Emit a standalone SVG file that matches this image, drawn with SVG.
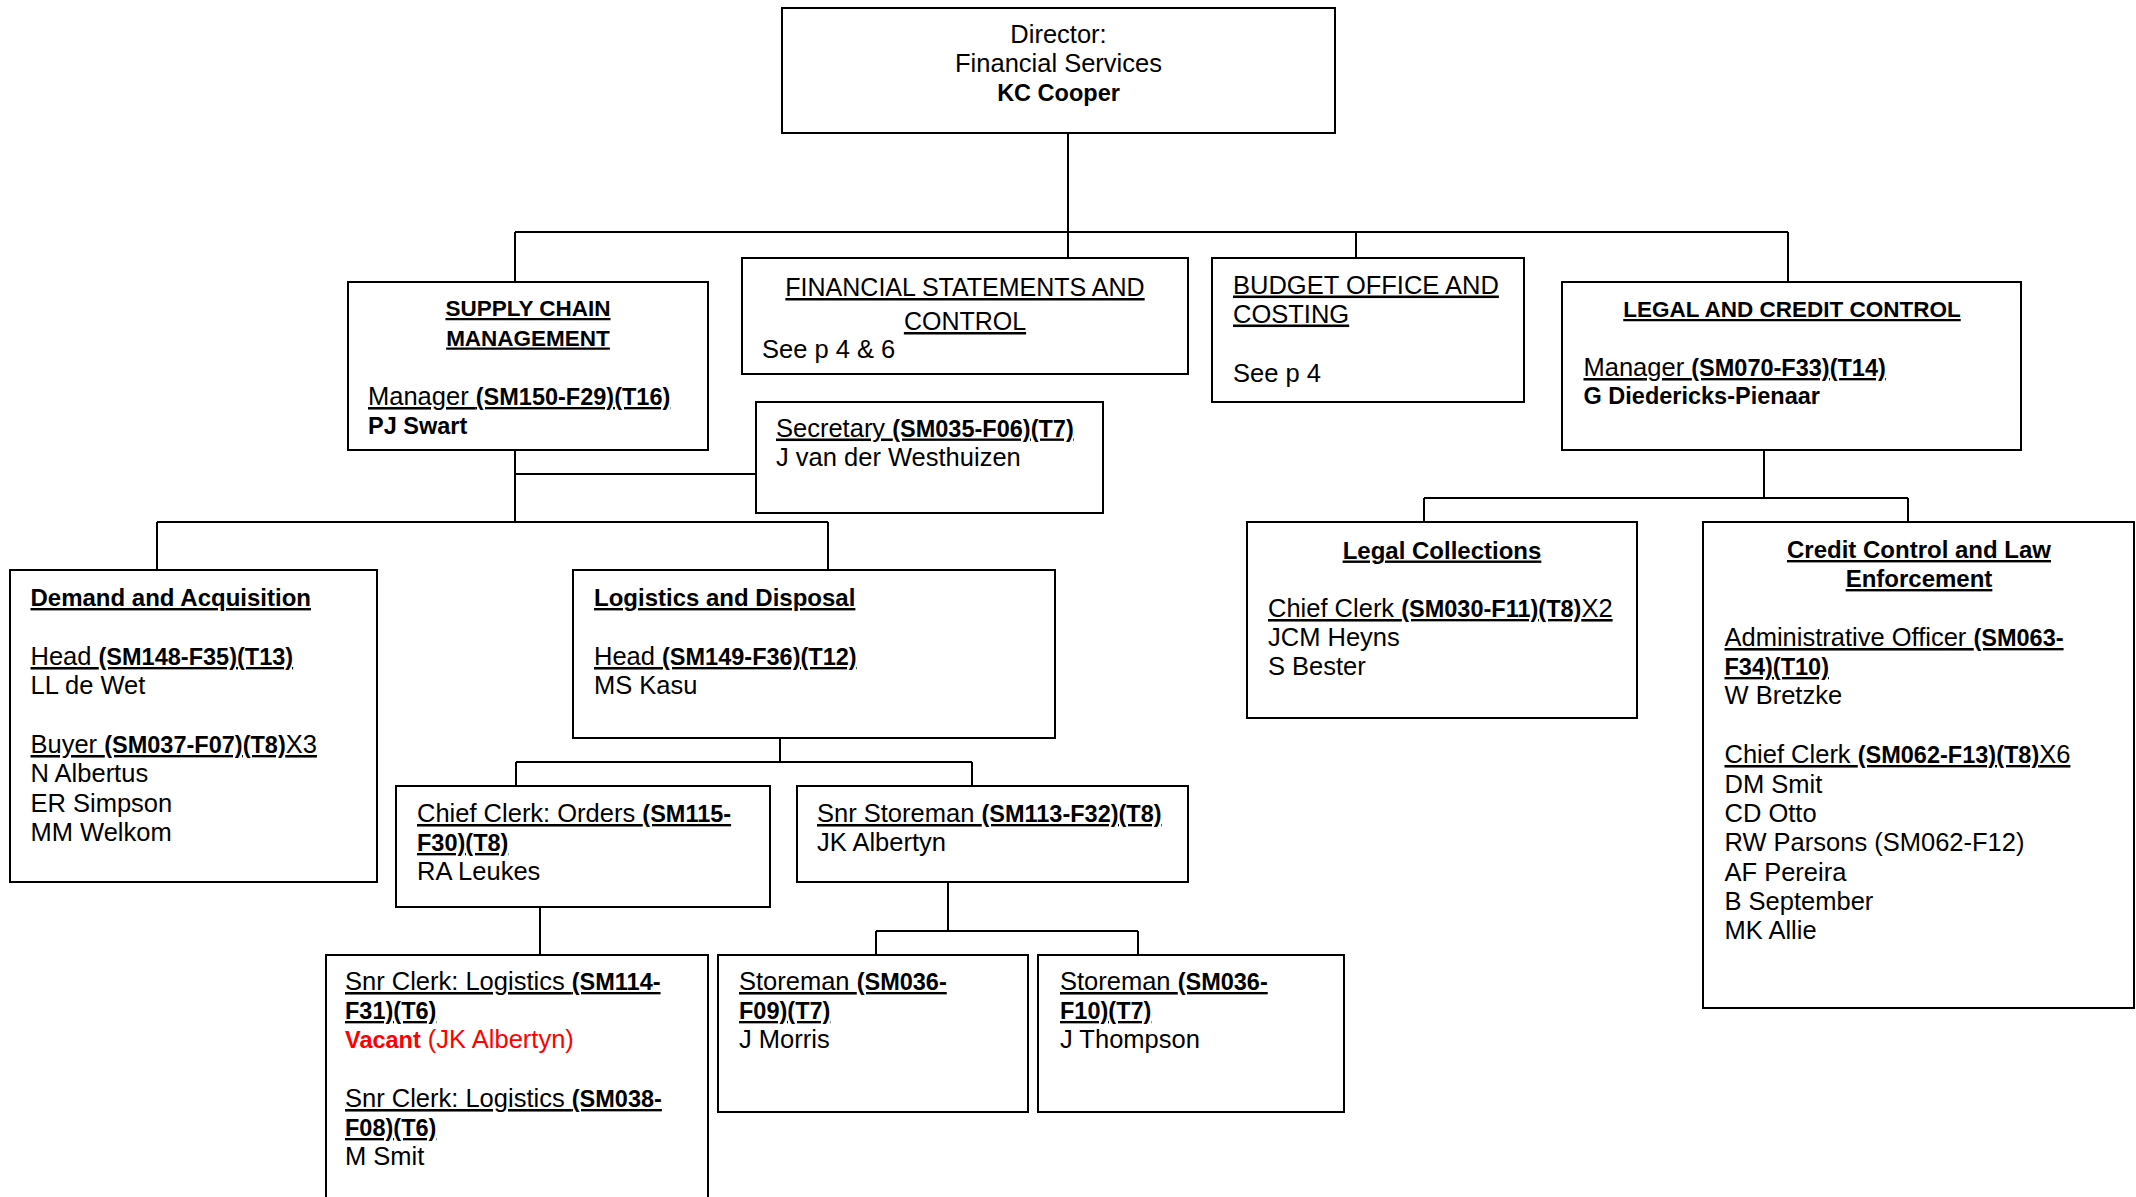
<svg xmlns="http://www.w3.org/2000/svg" width="2136" height="1197" viewBox="0 0 2136 1197">
<style>
.bx{fill:#fff;stroke:#000;stroke-width:2}
.cn{fill:none;stroke:#000;stroke-width:2}
text{font-family:"Liberation Sans",Arial,sans-serif;font-size:25.5px;fill:#000}
.b{font-weight:bold;font-size:23.5px}
.h{font-weight:bold;font-size:24px}
.hu{font-weight:bold;font-size:22.5px}
.u{text-decoration:underline}
.c{text-anchor:middle}
.red{fill:#ff0000}
</style>
<rect width="2136" height="1197" fill="#fff"/>
<g id="connectors">
<path class="cn" d="M1068,133V258M515,232H1788M515,232V282M1356,232V258M1788,232V282"/>
<path class="cn" d="M515,450V522M515,474H756M157,522H828M157,522V570M828,522V570"/>
<path class="cn" d="M780,738V762M516,762H972M516,762V786M972,762V786M540,907V955"/>
<path class="cn" d="M948,882V931M876,931H1138M876,931V955M1138,931V955"/>
<path class="cn" d="M1764,450V498M1424,498H1908M1424,498V522M1908,498V522"/>
</g>
<g id="director">
<rect class="bx" x="782" y="8" width="553" height="125"/>
<text class="c" x="1058.5" y="43">Director:</text>
<text class="c" x="1058.5" y="72">Financial Services</text>
<text class="c b" x="1058.5" y="101">KC Cooper</text>
</g>
<g id="supply-chain">
<rect class="bx" x="348" y="282" width="360" height="168"/>
<text class="c hu u" x="528" y="316">SUPPLY CHAIN</text>
<text class="c hu u" x="528" y="345.5">MANAGEMENT</text>
<text class="u" x="368" y="405">Manager <tspan class="b">(SM150-F29)(T16)</tspan></text>
<text class="b" x="368" y="434">PJ Swart</text>
</g>
<g id="financial-statements">
<rect class="bx" x="742" y="258" width="446" height="116"/>
<text class="c u" x="965" y="296" style="font-size:25px">FINANCIAL STATEMENTS AND</text>
<text class="c u" x="965" y="330" style="font-size:25px">CONTROL</text>
<text x="762" y="357.5">See p 4 &amp; 6</text>
</g>
<g id="budget-office">
<rect class="bx" x="1212" y="258" width="312" height="144"/>
<text class="u" x="1233" y="293.5">BUDGET OFFICE AND</text>
<text class="u" x="1233" y="322.5">COSTING</text>
<text x="1233" y="381.5">See p 4</text>
</g>
<g id="legal-credit">
<rect class="bx" x="1562" y="282" width="459" height="168"/>
<text class="c hu u" x="1792" y="317">LEGAL AND CREDIT CONTROL</text>
<text class="u" x="1583.5" y="376">Manager <tspan class="b">(SM070-F33)(T14)</tspan></text>
<text class="b" x="1583.5" y="404">G Diedericks-Pienaar</text>
</g>
<g id="secretary">
<rect class="bx" x="756" y="402" width="347" height="111"/>
<text class="u" x="776" y="436.5">Secretary <tspan class="b">(SM035-F06)(T7)</tspan></text>
<text x="776" y="465.5">J van der Westhuizen</text>
</g>
<g id="demand-acquisition">
<rect class="bx" x="10" y="570" width="367" height="312"/>
<text class="h u" x="30.5" y="606">Demand and Acquisition</text>
<text class="u" x="30.5" y="665">Head <tspan class="b">(SM148-F35)(T13)</tspan></text>
<text x="30.5" y="693.5">LL de Wet</text>
<text class="u" x="30.5" y="753">Buyer <tspan class="b">(SM037-F07)(T8)</tspan>X3</text>
<text x="30.5" y="782">N Albertus</text>
<text x="30.5" y="811.5">ER Simpson</text>
<text x="30.5" y="841">MM Welkom</text>
</g>
<g id="logistics-disposal">
<rect class="bx" x="573" y="570" width="482" height="168"/>
<text class="h u" x="594" y="606">Logistics and Disposal</text>
<text class="u" x="594" y="665">Head <tspan class="b">(SM149-F36)(T12)</tspan></text>
<text x="594" y="693.5">MS Kasu</text>
</g>
<g id="chief-clerk-orders">
<rect class="bx" x="396" y="786" width="374" height="121"/>
<text class="u" x="417" y="822">Chief Clerk: Orders <tspan class="b">(SM115-</tspan></text>
<text class="u b" x="417" y="851">F30)(T8)</text>
<text x="417" y="880">RA Leukes</text>
</g>
<g id="snr-storeman">
<rect class="bx" x="797" y="786" width="391" height="96"/>
<text class="u" x="817" y="822">Snr Storeman <tspan class="b">(SM113-F32)(T8)</tspan></text>
<text x="817" y="851">JK Albertyn</text>
</g>
<g id="snr-clerk-logistics">
<rect class="bx" x="326" y="955" width="382" height="262"/>
<text class="u" x="345" y="990">Snr Clerk: Logistics <tspan class="b">(SM114-</tspan></text>
<text class="u b" x="345" y="1019">F31)(T6)</text>
<text class="red" x="345" y="1048"><tspan class="b">Vacant</tspan> (JK Albertyn)</text>
<text class="u" x="345" y="1107">Snr Clerk: Logistics <tspan class="b">(SM038-</tspan></text>
<text class="u b" x="345" y="1136">F08)(T6)</text>
<text x="345" y="1165">M Smit</text>
</g>
<g id="storeman-1">
<rect class="bx" x="718" y="955" width="310" height="157"/>
<text class="u" x="739" y="990">Storeman <tspan class="b">(SM036-</tspan></text>
<text class="u b" x="739" y="1019">F09)(T7)</text>
<text x="739" y="1048">J Morris</text>
</g>
<g id="storeman-2">
<rect class="bx" x="1038" y="955" width="306" height="157"/>
<text class="u" x="1060" y="990">Storeman <tspan class="b">(SM036-</tspan></text>
<text class="u b" x="1060" y="1019">F10)(T7)</text>
<text x="1060" y="1048">J Thompson</text>
</g>
<g id="legal-collections">
<rect class="bx" x="1247" y="522" width="390" height="196"/>
<text class="c h u" x="1442" y="558.5">Legal Collections</text>
<text class="u" x="1268" y="617">Chief Clerk <tspan class="b">(SM030-F11)(T8)</tspan>X2</text>
<text x="1268" y="646">JCM Heyns</text>
<text x="1268" y="675">S Bester</text>
</g>
<g id="credit-control">
<rect class="bx" x="1703" y="522" width="431" height="486"/>
<text class="c h u" x="1919" y="558">Credit Control and Law</text>
<text class="c h u" x="1919" y="587">Enforcement</text>
<text class="u" x="1724.5" y="646">Administrative Officer <tspan class="b">(SM063-</tspan></text>
<text class="u b" x="1724.5" y="675">F34)(T10)</text>
<text x="1724.5" y="704">W Bretzke</text>
<text class="u" x="1724.5" y="763">Chief Clerk <tspan class="b">(SM062-F13)(T8)</tspan>X6</text>
<text x="1724.5" y="792.5">DM Smit</text>
<text x="1724.5" y="822">CD Otto</text>
<text x="1724.5" y="851">RW Parsons (SM062-F12)</text>
<text x="1724.5" y="880.5">AF Pereira</text>
<text x="1724.5" y="910">B September</text>
<text x="1724.5" y="939">MK Allie</text>
</g>
</svg>
